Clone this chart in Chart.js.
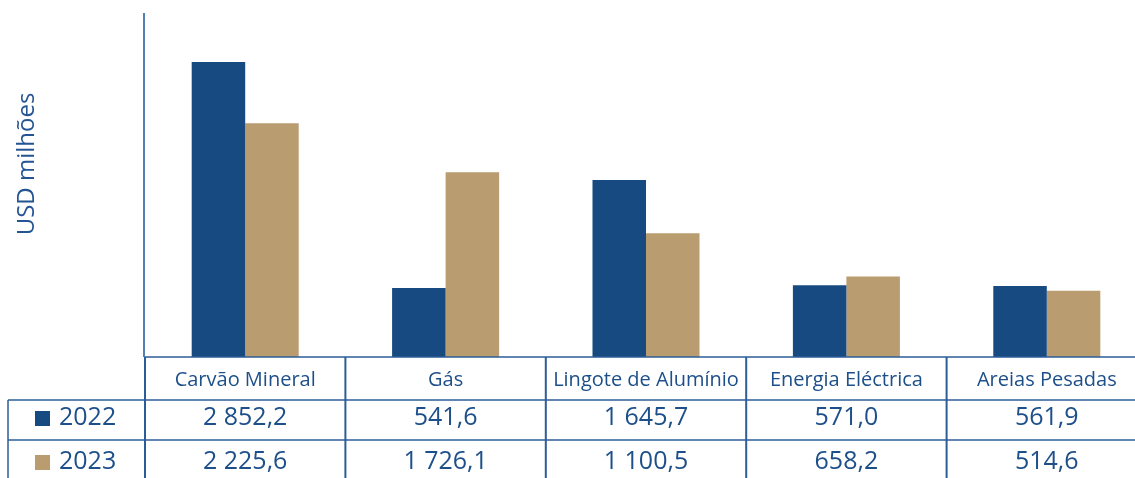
<!DOCTYPE html>
<html>
<head>
<meta charset="utf-8">
<script src="https://cdn.jsdelivr.net/npm/chart.js@4"></script>
<style>
  html, body { margin: 0; padding: 0; background: #fff; overflow: hidden; }
  #wrap { width: 1147px; height: 478px; position: relative; }
</style>
</head>
<body>
<div id="wrap"><canvas id="grafico"></canvas></div>
<script>
// dados (USD milhões)
const categorias = ["Carvão Mineral", "Gás", "Lingote de Alumínio", "Energia Eléctrica", "Areias Pesadas"];
const anos = ["2022", "2023"];
const valores2022 = [2852.2, 541.6, 1645.7, 571.0, 561.9];
const valores2023 = [2225.6, 1726.1, 1100.5, 658.2, 514.6];
const rotulos2022 = ["2 852,2", "541,6", "1 645,7", "571,0", "561,9"];
const rotulos2023 = ["2 225,6", "1 726,1", "1 100,5", "658,2", "514,6"];
const tituloY = "USD milhões";

const corAzul = "#164a80";
const corOuro = "#b99c6f";
const corTexto = "#1d4f8a";
const corLinha = "#2d5d98";
const fonte = "'Open Sans', 'Noto Sans', sans-serif";

const yMin = -164, yMax = 3354;

const tabelaPlugin = {
  id: "tabela",
  afterDraw(chart) {
    const ctx = chart.ctx;
    const x = chart.scales.x;
    const area = chart.chartArea;
    const n = categorias.length;
    const larg = (x.getPixelForValue(1) - x.getPixelForValue(0));
    const bordas = [];
    for (let i = 0; i <= n; i++) bordas.push(x.getPixelForValue(0) - larg / 2 + i * larg);

    const topo = area.bottom;      // 357
    const linha1 = 400, linha2 = 440, fundo = 478;
    const esq = 8;

    ctx.save();
    // eixo y
    ctx.strokeStyle = "#5580b3";
    ctx.lineWidth = 2;
    ctx.beginPath();
    ctx.moveTo(area.left - 1, area.top);
    ctx.lineTo(area.left - 1, topo);
    ctx.stroke();

    // linhas da tabela
    ctx.strokeStyle = corLinha;
    ctx.lineWidth = 1.5;
    ctx.beginPath();
    ctx.moveTo(bordas[0], topo); ctx.lineTo(chart.width, topo);
    ctx.moveTo(esq, linha1); ctx.lineTo(chart.width, linha1);
    ctx.moveTo(esq, linha2); ctx.lineTo(chart.width, linha2);
    ctx.moveTo(esq, linha1); ctx.lineTo(esq, fundo);
    ctx.stroke();
    ctx.lineWidth = 2;
    ctx.beginPath();
    for (let i = 0; i < n; i++) {
      ctx.moveTo(bordas[i], topo); ctx.lineTo(bordas[i], fundo);
    }
    ctx.stroke();

    // textos
    ctx.fillStyle = corTexto;
    ctx.textAlign = "center";
    ctx.textBaseline = "middle";
    for (let i = 0; i < n; i++) {
      const cx = (bordas[i] + bordas[i + 1]) / 2;
      ctx.font = "20px " + fonte;
      ctx.fillText(categorias[i], cx, 380);
      ctx.font = "25px " + fonte;
      ctx.fillText(rotulos2022[i], cx, 418);
      ctx.fillText(rotulos2023[i], cx, 462);
    }

    // legenda na tabela
    const ds = chart.data.datasets;
    const ys = [418, 462];
    ctx.textAlign = "left";
    ctx.font = "25px " + fonte;
    ds.forEach((d, k) => {
      ctx.fillStyle = d.backgroundColor;
      ctx.fillRect(35, ys[k] - 7, 15, 15);
      ctx.fillStyle = corTexto;
      ctx.fillText(d.label, 59, ys[k]);
    });

    // titulo do eixo y
    ctx.save();
    ctx.translate(27, 164);
    ctx.rotate(-Math.PI / 2);
    ctx.textAlign = "center";
    ctx.fillStyle = "#245592";
    ctx.font = "24px " + fonte;
    ctx.fillText(tituloY, 0, 0);
    ctx.restore();

    ctx.restore();
  }
};

new Chart(document.getElementById("grafico"), {
  type: "bar",
  data: {
    labels: categorias,
    datasets: [
      { label: anos[0], data: valores2022, backgroundColor: corAzul, base: yMin },
      { label: anos[1], data: valores2023, backgroundColor: corOuro, base: yMin }
    ]
  },
  options: {
    responsive: true,
    maintainAspectRatio: false,
    animation: false,
    datasets: { bar: { barPercentage: 1, categoryPercentage: 0.534 } },
    layout: { padding: { left: 145, top: 13, right: 0, bottom: 121 } },
    plugins: { legend: { display: false }, tooltip: { enabled: false } },
    scales: {
      x: { display: false },
      y: { display: false, min: yMin, max: yMax }
    }
  },
  plugins: [tabelaPlugin]
});
</script>
</body>
</html>
